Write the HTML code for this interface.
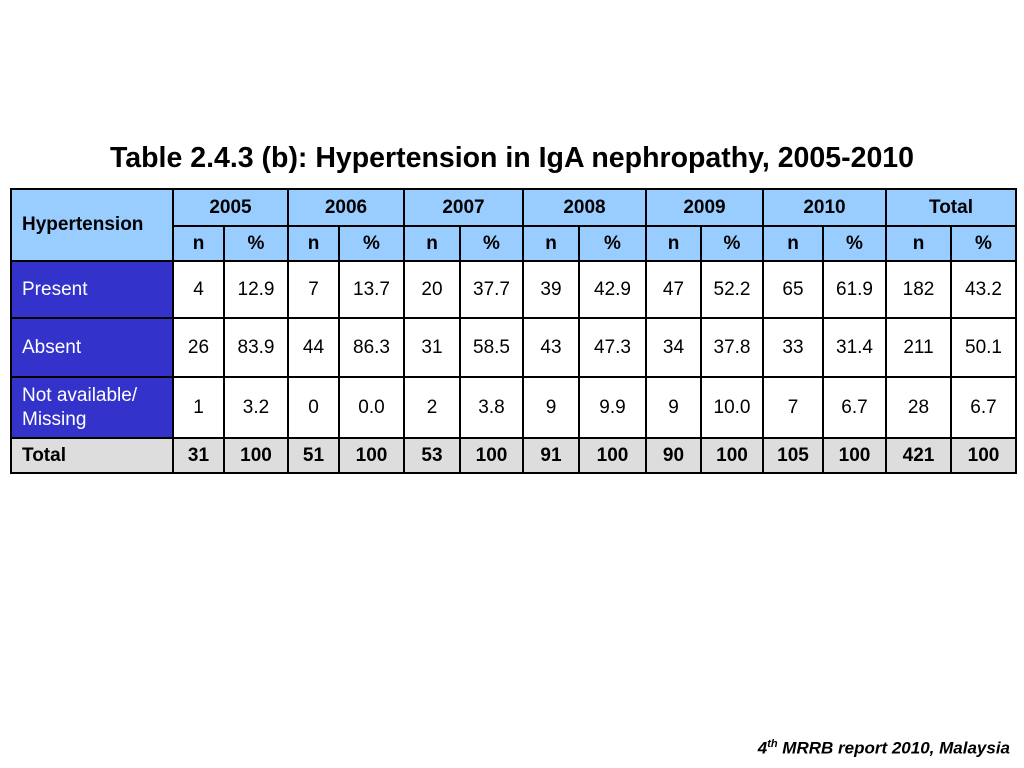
<!DOCTYPE html>
<html><head><meta charset="utf-8"><style>
body{margin:0;width:1024px;height:768px;background:#fff;position:relative;font-family:"Liberation Sans",Arial,sans-serif;overflow:hidden}
#title{position:absolute;left:0;width:1024px;top:142px;text-align:center;font-weight:bold;font-size:28.5px;color:#000}
table{position:absolute;left:10px;top:188px;border-collapse:collapse;table-layout:fixed;font-size:19px}
td{border:2px solid #000;text-align:center;padding:0;color:#000}
.h{background:#99ccff;font-weight:bold}
.lab{background:#3333cc;color:#fff;text-align:left;padding-left:10px;line-height:24px}
.t{background:#dddddd;font-weight:bold}
#src{position:absolute;right:14px;top:738px;font-size:17px;font-style:italic;font-weight:bold}
</style></head><body>
<div id="title">Table 2.4.3 (b): Hypertension in IgA nephropathy, 2005-2010</div>
<table>
<colgroup><col style="width:162px"><col style="width:51px"><col style="width:64px"><col style="width:51px"><col style="width:65px"><col style="width:56px"><col style="width:63px"><col style="width:56px"><col style="width:67px"><col style="width:55px"><col style="width:62px"><col style="width:60px"><col style="width:63px"><col style="width:65px"><col style="width:65px"></colgroup>
<tr style="height:37px"><td class="h" rowspan="2" style="text-align:left;padding-left:10px">Hypertension</td><td class="h" colspan="2">2005</td><td class="h" colspan="2">2006</td><td class="h" colspan="2">2007</td><td class="h" colspan="2">2008</td><td class="h" colspan="2">2009</td><td class="h" colspan="2">2010</td><td class="h" colspan="2">Total</td></tr>
<tr style="height:35px"><td class="h">n</td><td class="h">%</td><td class="h">n</td><td class="h">%</td><td class="h">n</td><td class="h">%</td><td class="h">n</td><td class="h">%</td><td class="h">n</td><td class="h">%</td><td class="h">n</td><td class="h">%</td><td class="h">n</td><td class="h">%</td></tr>
<tr style="height:57px"><td class="lab">Present</td><td>4</td><td>12.9</td><td>7</td><td>13.7</td><td>20</td><td>37.7</td><td>39</td><td>42.9</td><td>47</td><td>52.2</td><td>65</td><td>61.9</td><td>182</td><td>43.2</td></tr>
<tr style="height:59px"><td class="lab">Absent</td><td>26</td><td>83.9</td><td>44</td><td>86.3</td><td>31</td><td>58.5</td><td>43</td><td>47.3</td><td>34</td><td>37.8</td><td>33</td><td>31.4</td><td>211</td><td>50.1</td></tr>
<tr style="height:61px"><td class="lab">Not available/<br>Missing</td><td>1</td><td>3.2</td><td>0</td><td>0.0</td><td>2</td><td>3.8</td><td>9</td><td>9.9</td><td>9</td><td>10.0</td><td>7</td><td>6.7</td><td>28</td><td>6.7</td></tr>
<tr style="height:35px"><td class="t" style="text-align:left;padding-left:10px">Total</td><td class="t">31</td><td class="t">100</td><td class="t">51</td><td class="t">100</td><td class="t">53</td><td class="t">100</td><td class="t">91</td><td class="t">100</td><td class="t">90</td><td class="t">100</td><td class="t">105</td><td class="t">100</td><td class="t">421</td><td class="t">100</td></tr>
</table>
<div id="src">4<sup style="font-size:11px">th</sup> MRRB report 2010, Malaysia</div>
</body></html>
